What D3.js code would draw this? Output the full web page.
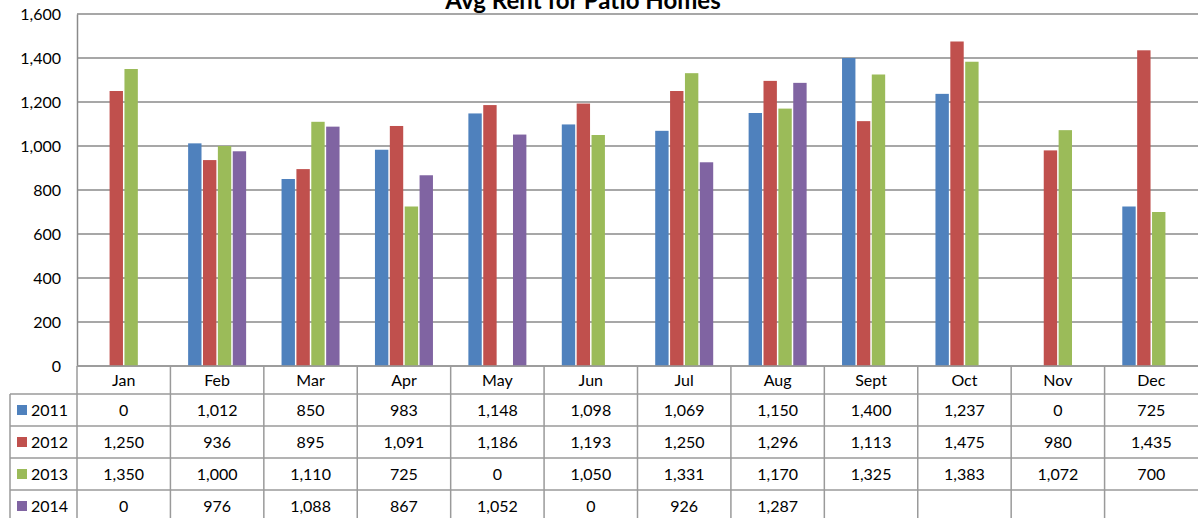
<!DOCTYPE html>
<html>
<head>
<meta charset="utf-8">
<script src="https://cdn.jsdelivr.net/npm/d3@7"></script>
<style>
  body { margin: 0; background: #fff; }
  svg { display: block; font-family: Lato, "Open Sans", sans-serif; }
</style>
</head>
<body>
<svg id="chart" width="1198" height="518"></svg>
<script>
const months = ["Jan", "Feb", "Mar", "Apr", "May", "Jun", "Jul", "Aug", "Sept", "Oct", "Nov", "Dec"];
const years = ["2011", "2012", "2013", "2014"];
const rent2011 = [0, 1012, 850, 983, 1148, 1098, 1069, 1150, 1400, 1237, 0, 725];
const rent2012 = [1250, 936, 895, 1091, 1186, 1193, 1250, 1296, 1113, 1475, 980, 1435];
const rent2013 = [1350, 1000, 1110, 725, 0, 1050, 1331, 1170, 1325, 1383, 1072, 700];
const rent2014 = [0, 976, 1088, 867, 1052, 0, 926, 1287, null, null, null, null];
const yTicks = [0, 200, 400, 600, 800, 1000, 1200, 1400, 1600];
const colors = ["#4F81BD", "#C0504D", "#9BBB59", "#8064A2"];

const series = years.map((y, i) => ({
    year: y,
    color: colors[i],
    values: [rent2011, rent2012, rent2013, rent2014][i]
}));

const svg = d3.select("#chart");
const plotLeft = 77, plotRight = 1198, plotTop = 14, plotBottom = 366;
const fontSize = 16;

const x = d3.scaleBand().domain(months).range([plotLeft, plotRight]);
const xs = d3.scaleBand().domain(years).range([-29, 29]).paddingInner(0.1);
const y = d3.scaleLinear().domain([0, 1600]).range([plotBottom, plotTop]);

// gridlines
svg.append("g")
    .selectAll("line")
    .data(yTicks)
    .join("line")
    .attr("x1", plotLeft).attr("x2", plotRight)
    .attr("y1", d => y(d)).attr("y2", d => y(d))
    .attr("stroke", "#8a8a8a").attr("stroke-width", 1.5);

// y axis
const yAxis = svg.append("g")
    .attr("transform", `translate(${plotLeft},0)`)
    .call(d3.axisLeft(y).tickValues(yTicks).tickSize(0).tickPadding(16).tickFormat(d3.format(",")));
yAxis.select(".domain").attr("stroke", "#8a8a8a").attr("stroke-width", 1.5);
yAxis.selectAll("text").attr("font-size", fontSize).attr("fill", "#000")
    .attr("font-family", "Lato, 'Open Sans', sans-serif");

// bars
const groups = svg.append("g")
    .selectAll("g")
    .data(series)
    .join("g")
    .attr("fill", d => d.color);

groups.selectAll("rect")
    .data(d => d.values.map((v, i) => ({ month: months[i], value: v, year: d.year })).filter(e => e.value))
    .join("rect")
    .attr("x", d => x(d.month) + x.bandwidth() / 2 + xs(d.year))
    .attr("width", xs.bandwidth())
    .attr("y", d => y(d.value))
    .attr("height", d => y(0) - y(d.value));

// title (clipped at the top edge, as in the source)
svg.append("text")
    .attr("x", 583).attr("y", 9)
    .attr("text-anchor", "middle")
    .attr("font-size", 24).attr("font-weight", "bold")
    .text("Avg Rent for Patio Homes");

// data table
const headerH = 28, rowH = 32, tableLeft = 10;
const fmt = d3.format(",");
const table = svg.append("g");
const lineColor = "#9a9a9a";

// header row
table.append("line")
    .attr("x1", plotLeft).attr("x2", plotRight).attr("y1", plotBottom).attr("y2", plotBottom)
    .attr("stroke", lineColor).attr("stroke-width", 1.5);
table.selectAll(".month")
    .data(months)
    .join("text")
    .attr("class", "month")
    .attr("x", d => x(d) + x.bandwidth() / 2)
    .attr("y", plotBottom + headerH / 2 + 6)
    .attr("text-anchor", "middle")
    .attr("font-size", fontSize)
    .text(d => d);

// rows
series.forEach((s, i) => {
    const ry = plotBottom + headerH + i * rowH;
    table.append("line")
        .attr("x1", tableLeft).attr("x2", plotRight).attr("y1", ry).attr("y2", ry)
        .attr("stroke", lineColor).attr("stroke-width", 1.5);

    table.append("rect")
        .attr("x", tableLeft + 7).attr("y", ry + rowH / 2 - 5)
        .attr("width", 10).attr("height", 10)
        .attr("fill", s.color);
    table.append("text")
        .attr("x", tableLeft + 21).attr("y", ry + rowH / 2 + 6)
        .attr("font-size", fontSize)
        .text(s.year);

    table.selectAll(".v" + s.year)
        .data(s.values.map((v, j) => ({ month: months[j], value: v })).filter(e => e.value !== null))
        .join("text")
        .attr("class", "v" + s.year)
        .attr("x", d => x(d.month) + x.bandwidth() / 2)
        .attr("y", ry + rowH / 2 + 6)
        .attr("text-anchor", "middle")
        .attr("font-size", fontSize)
        .text(d => fmt(d.value));
});

// vertical lines
const tableBottom = plotBottom + headerH + series.length * rowH;
table.append("line")
    .attr("x1", tableLeft).attr("x2", tableLeft)
    .attr("y1", plotBottom + headerH).attr("y2", tableBottom)
    .attr("stroke", lineColor).attr("stroke-width", 1.5);
table.selectAll(".vline")
    .data(months)
    .join("line")
    .attr("class", "vline")
    .attr("x1", d => x(d)).attr("x2", d => x(d))
    .attr("y1", plotBottom).attr("y2", tableBottom)
    .attr("stroke", lineColor).attr("stroke-width", 1.5);
</script>
</body>
</html>
